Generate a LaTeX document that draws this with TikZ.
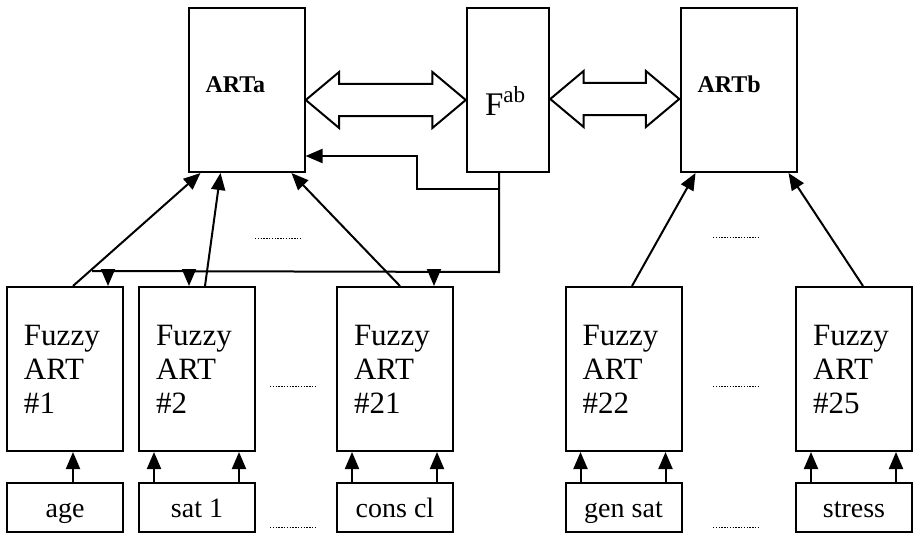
\documentclass[tikz,border=0pt]{standalone}
\usepackage{fontspec}
\setmainfont{Liberation Serif}
\usetikzlibrary{arrows.meta,calc,shapes.arrows}

\begin{document}
\begin{tikzpicture}[x=0.5pt,y=-0.5pt,line width=1pt,
    unit/.style={draw,minimum width=58pt,minimum height=82pt,inner xsep=8.5pt,text width=41pt,align=left},
    fuzzy/.style={unit,font=\fontsize{15.5}{17}\selectfont},
    art/.style={unit,font=\fontsize{12}{14}\selectfont\bfseries,text height=8pt,text depth=6pt},
    inp/.style={draw,minimum width=58pt,minimum height=24.5pt,font=\fontsize{14}{16}\selectfont,text height=9.5pt,text depth=0pt},
    link/.style={double arrow,draw,inner xsep=0pt,inner ysep=7.5pt,double arrow head extend=6pt,double arrow tip angle=80},
    tip/.style={-{Triangle[length=8.5pt,width=7pt]}},
    gap/.style={line width=.5pt,dash pattern=on .7pt off .7pt}]
  \useasboundingbox (0,0) rectangle (913,535);
  % ART modules and map field
  \node[art] (artA) at (246.5,90) {ARTa};
  \node[art] (artB) at (738.5,90) {ARTb};
  \node[unit,minimum width=41pt,text width=23pt,inner xsep=9pt,font=\fontsize{16.5}{18}\selectfont,text height=25pt,text depth=0pt] (fab) at (508,90) {F\textsuperscript{ab}};
  \node[link,minimum height=80pt,yshift=-5pt] (linkA) at ($(artA.east)!.5!(fab.west)$) {};
  \node[link,minimum height=64.5pt,yshift=-4.5pt] (linkB) at ($(fab.east)!.5!(artB.west)$) {};
  % Fuzzy ART modules with their inputs
  \foreach \n/\x/\lbl in {1/65/age,2/197/sat 1,21/395/cons cl,22/623.5/gen sat,25/854/stress}{
    \node[fuzzy] (fz\n) at (\x,369) {Fuzzy\\ART\\\#\n};
    \node[inp] (in\n) at (\x,507.5) {\lbl};
  }
  % inputs up into the modules
  \draw[tip] ($(in1.north)+(8,0)$) -- ($(fz1.south)+(8,0)$);
  \foreach \n in {2,21,22,25}{
    \draw[tip] ($(in\n.north west)+(16,0)$) -- ($(fz\n.south west)+(16,0)$);
    \draw[tip] ($(in\n.north east)+(-17,0)$) -- ($(fz\n.south east)+(-17,0)$);
  }
  % modules up into ARTa / ARTb
  \draw[tip] ($(fz1.north)+(8,0)$) -- ($(artA.south west)+(13,0)$);
  \draw[tip] ($(fz2.north)+(8,0)$) -- ($(artA.south west)+(33,0)$);
  \draw[tip] ($(fz21.north)+(5,0)$) -- ($(artA.south east)+(-14,0)$);
  \draw[tip] ($(fz22.north)+(8.5,0)$) -- ($(artB.south west)+(16,0)$);
  \draw[tip] ($(fz25.north)+(9,0)$) -- ($(artB.south east)+(-9,0)$);
  % feedback from the map field
  \coordinate (busE) at ($(fab.south)+(-9,99)$);
  \coordinate (busW) at (92,271);
  \coordinate (jn) at ($(fab.south)+(-9,16)$);
  \draw ($(fab.south)+(-9,0)$) -- (busE) -- (busW);
  \draw[tip] (jn) -- ++(-82,0) |- ($(artA.east)+(0,66)$);
  \draw[tip] ($(fz1.north east)+(-16,-16)$) -- ($(fz1.north east)+(-16,0)$);
  \draw[tip] ($(fz2.north)+(-8,-16)$) -- ($(fz2.north)+(-8,0)$);
  \draw[tip] ($(fz21.north east)+(-20,-16)$) -- ($(fz21.north east)+(-20,0)$);
  % elided modules
  \foreach \x/\y in {255/238,713/237,270/386,270/527,713/386,713/527}
    \draw[gap] (\x,\y) -- ++(47,0);
\end{tikzpicture}
\end{document}
